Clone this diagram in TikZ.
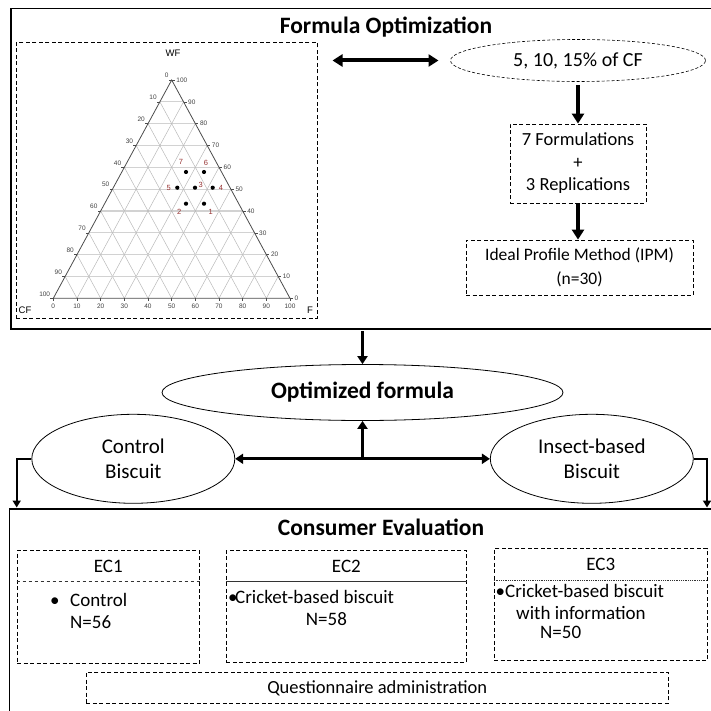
\documentclass[tikz,border=0pt]{standalone}
\usepackage{fontspec}
\setmainfont{Carlito}
\newfontfamily\ternfont{Liberation Sans}
\usetikzlibrary{shapes, arrows.meta, calc, positioning}

\definecolor{ptred}{RGB}{150,50,50}

\begin{document}
\begin{tikzpicture}[x=1pt, y=-1pt, >={Triangle[length=10pt,width=12pt]}]
	\tikzstyle{framebox} = [draw, line width=1.5pt, inner sep=0pt]
	\tikzstyle{dbox} = [draw, dash pattern=on 4pt off 2.5pt, line width=0.8pt, inner sep=0pt]
	\tikzstyle{oval} = [draw, ellipse, line width=0.8pt, inner sep=0pt, align=center]
	\tikzstyle{head} = [font=\fontsize{23.5}{28}\selectfont\bfseries, inner sep=0pt, anchor=base]
	\tikzstyle{txt} = [font=\fontsize{19}{21.5}\selectfont, inner sep=0pt, align=left, anchor=base west]
	\tikzstyle{fat} = [line width=4pt]
	\tikzstyle{slim} = [line width=2.8pt, >={Triangle[length=8pt,width=10pt]}]
	\tikzstyle{elbow} = [->, line width=2.3pt, >={Triangle[length=7pt,width=8pt]}]
	\tikzstyle{tgrid} = [gray!55, line width=0.5pt]
	\tikzstyle{ticklab} = [font=\ternfont\fontsize{6.5}{7}\selectfont, text=black!75, inner sep=1pt]

	\useasboundingbox (0,0) rectangle (711,711);
	\clip (0,0) rectangle (711,711);

	% formula optimization
	\node[framebox, anchor=north west, minimum width=703pt, minimum height=320pt] (optbox) at (10,8) {};
	\node[head] (opttitle) at (386,33.3) {Formula Optimization};

	% ternary mixture plot
	\node[dbox, anchor=north west, minimum width=301pt, minimum height=276pt] (tern) at (16,42) {};
	\coordinate (A) at (171.7,80);
	\coordinate (B) at (53.3,298.3);
	\coordinate (C) at (290,298.3);
	\foreach \i in {1,...,9} {
		\pgfmathsetmacro{\f}{\i/10}
		\draw[tgrid, gray!35, line width=1.1pt] ($(A)!\f!(B)$) -- ($(A)!\f!(C)$);
		\draw[tgrid] ($(B)!\f!(A)$) -- ($(B)!\f!(C)$);
		\draw[tgrid] ($(C)!\f!(A)$) -- ($(C)!\f!(B)$);
	}
	\draw[black!70, line width=0.8pt] (A) -- (B) -- (C) -- cycle;
	\foreach \i in {0,...,10} {
		\pgfmathsetmacro{\f}{\i/10}
		\pgfmathtruncatemacro{\v}{10*\i}
		\pgfmathtruncatemacro{\w}{100-10*\i}
		\draw[black!70, line width=0.5pt] ($(A)!\f!(B)$) -- ++(-3,0);
		\draw[black!70, line width=0.5pt] ($(A)!\f!(C)$) -- ++(3,0);
		\draw[black!70, line width=0.5pt] ($(B)!\f!(C)$) -- ++(0,2.5);
		\node[ticklab, anchor=south east] (lt\i) at ($(A)!\f!(B)+(-2,-1)$) {\v};
		\node[ticklab, anchor=west] (rt\i) at ($(A)!\f!(C)+(3.5,0)$) {\w};
		\node[ticklab, anchor=north] (bt\i) at ($(B)!\f!(C)+(0,4)$) {\v};
	}
	\foreach \x/\y in {186/172, 204/172, 177.3/187.7, 195/187.7, 212.7/187.7, 186/203.7, 204/203.7}
		\fill (\x,\y) circle (2.1pt);
	\foreach \t/\x/\y in {7/181/162, 6/206/163, 5/168.7/187.7, 3/200.7/184.7, 4/221/188.3, 2/179.3/212, 1/210.7/211.7}
		\node[ticklab, text=ptred, font=\ternfont\fontsize{7.5}{8}\selectfont] (p\t) at (\x,\y) {\t};
	\node[font=\ternfont\fontsize{9.5}{10}\selectfont, inner sep=0pt] (wf) at (173,53) {WF};
	\node[font=\ternfont\fontsize{9.5}{10}\selectfont, inner sep=0pt] (cfname) at (25,310) {CF};
	\node[font=\ternfont\fontsize{9.5}{10}\selectfont, inner sep=0pt] (fname) at (310,310) {F};

	% right column
	\node[oval, dash pattern=on 3pt off 2pt, line width=0.6pt, minimum width=255pt, minimum height=42pt,
		font=\fontsize{20}{24}\selectfont] (cf) at (578,60.5) {5, 10, 15\% of CF};
	\node[dbox, minimum width=136pt, minimum height=79pt, align=center,
		font=\fontsize{18.5}{22.5}\selectfont] (form) at (578,163.5) {7 Formulations\\+\\3 Replications};
	\node[dbox, minimum width=227pt, minimum height=55pt, align=center,
		font=\fontsize{17.5}{24}\selectfont] (ipm) at (579.5,267.5) {Ideal Profile Method (IPM)\\(n=30)};

	\draw[fat, <->, shorten <=14.7pt, shorten >=11.7pt] (tern.east |- cf.west) -- (cf.west);
	\draw[fat, ->, shorten <=3pt] (cf.south) -- (form.north);
	\draw[fat, ->] (form.south) -- (form.south |- ipm.north);

	% optimized formula and biscuits
	\node[oval, minimum width=401pt, minimum height=56pt, font=\fontsize{23.5}{28}\selectfont\bfseries] (optf) at (362.5,392.5) {Optimized formula};
	\node[oval, minimum width=203pt, minimum height=89pt, font=\fontsize{21}{25.3}\selectfont] (ctrl) at (133.3,458.8) {Control\\Biscuit};
	\node[oval, minimum width=203pt, minimum height=89pt, font=\fontsize{21}{25.3}\selectfont] (insect) at (591.8,458.8) {Insect-based\\Biscuit};
	\coordinate (mid) at ($(ctrl.east)!0.5!(insect.west)$);

	\draw[slim, ->, line width=3.3pt, shorten <=1.5pt] (optbox.south -| optf.north) -- (optf.north);
	\draw[slim, <->] (ctrl.east) -- (insect.west);
	\draw[slim, ->] (mid) -- (optf.south);

	% consumer evaluation
	\node[framebox, anchor=north west, minimum width=705pt, minimum height=210pt] (evalbox) at (8.5,508) {};
	\coordinate (cin) at (16.7,507.5);
	\coordinate (iin) at (707,507.5);
	\draw[elbow] (ctrl.west) -| (cin);
	\draw[elbow] (insect.east) -| (iin);

	\node[head] (evaltitle) at (381,535.7) {Consumer Evaluation};
	\node[dbox, anchor=north west, minimum width=182.3pt, minimum height=113.3pt] (ec1) at (16.7,550) {};
	\node[dbox, anchor=north west, minimum width=240pt, minimum height=112.3pt] (ec2) at (226,550) {};
	\node[dbox, anchor=north west, minimum width=213.3pt, minimum height=111.7pt] (ec3) at (493.7,548.3) {};
	\foreach \b/\t/\s in {ec1/EC1/dashed, ec2/EC2/solid, ec3/EC3/densely dotted} {
		\draw[line width=0.8pt, black!80, \s] ($(\b.north west)+(0,31.7)$) -- ($(\b.north east)+(0,31.7)$);
		\node[font=\fontsize{19}{21.5}\selectfont, inner sep=0pt] (h\b) at ($(\b.north)+(0,16)$) {\t};
	}
	% base of a multi-line node = last line
	\node[txt] (body1) at (50,628.3) {\makebox[20pt][l]{\textbullet}Control\\\hspace*{20pt}N=56};
	\node[txt] (body2) at (228,625) {\makebox[7pt][l]{\textbullet}Cricket-based biscuit\\\hspace*{77.7pt}N=58};
	\node[txt] (body3) at (495.5,638.3) {\makebox[9.5pt][l]{\textbullet}Cricket-based biscuit\\\hspace*{20.5pt}with information\\[-2.5pt]\hspace*{44.5pt}N=50};
	\node[dbox, anchor=north west, minimum width=581.7pt, minimum height=31.6pt,
		font=\fontsize{18.5}{21}\selectfont] (quest) at (86,671.7) {Questionnaire administration};
\end{tikzpicture}
\end{document}
